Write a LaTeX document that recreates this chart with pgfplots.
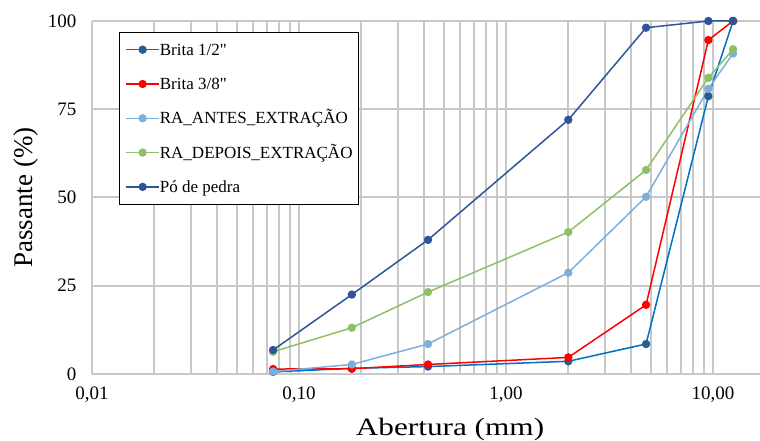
\documentclass[border=0pt]{standalone}
\usepackage{pgfplots}
\pgfplotsset{compat=1.18}
\usepackage{fontspec}
\setmainfont{Liberation Serif}[Ligatures=TeXOff]

\definecolor{bUmLine}{RGB}{0,112,192}
\definecolor{bUmMark}{RGB}{37,94,145}
\definecolor{bTres}{RGB}{255,0,0}
\definecolor{raAntes}{RGB}{125,175,222}
\definecolor{raDepois}{RGB}{140,193,104}
\definecolor{poPedra}{RGB}{47,85,151}
\definecolor{gridc}{RGB}{200,200,200}

\begin{document}
\begin{tikzpicture}
\begin{axis}[
  scale only axis,
  width=668pt, height=353pt,
  xmode=log, log basis x=10,
  xmin=0.01, xmax=16.87,
  ymin=0, ymax=100,
  clip=false,
  xtick={0.01,0.1,1,10},
  xticklabels={{0,01},{0,10},{1,00},{10,00}},
  minor xtick={0.02,0.03,0.04,0.05,0.06,0.07,0.08,0.09,
               0.2,0.3,0.4,0.5,0.6,0.7,0.8,0.9,
               2,3,4,5,6,7,8,9},
  ytick={0,25,50,75,100},
  yticklabels={0,25,50,75,100},
  xmajorgrids, xminorgrids, ymajorgrids,
  grid style={draw=gridc, line width=2pt},
  minor grid style={draw=gridc, line width=2pt},
  axis line style={draw=none},
  major tick length=0pt, minor tick length=0pt,
  tick label style={font=\fontsize{19}{19}\selectfont},
  yticklabel style={xshift=-12pt},
  xticklabel style={yshift=-9pt},
  legend style={
    at={(axis description cs:0.0404,0.9697)}, anchor=north west,
    draw=black, line width=0.8pt, fill=white,
    font=\fontsize{17}{17}\selectfont,
    inner xsep=6pt, inner ysep=9.6pt,
    row sep=18.3pt,
    nodes={inner sep=0pt, text height=13.5pt, text depth=2.5pt},
  },
  legend cell align=left,
  legend image code/.code={
    \draw[mark repeat=2, mark phase=2, #1]
      plot coordinates {(0pt,0pt) (16.5pt,0pt) (33pt,0pt)};
  },
  every axis plot/.append style={line width=1.5pt, mark=*, mark size=3.4pt},
]
% Brita 1/2"
\addplot[color=bUmLine, mark options={fill=bUmMark, draw=bUmMark}] coordinates {
  (0.075,0.6) (0.18,1.6) (0.42,2.1) (2.0,3.6) (4.75,8.5) (9.5,78.7) (12.5,100)};
\addlegendentry{Brita 1/2"}
% Brita 3/8"
\addplot[color=bTres, mark options={fill=bTres, draw=bTres}] coordinates {
  (0.075,1.4) (0.18,1.5) (0.42,2.7) (2.0,4.7) (4.75,19.6) (9.5,94.6) (12.5,100)};
\addlegendentry{Brita 3/8"}
% RA antes da extração
\addplot[color=raAntes, mark options={fill=raAntes, draw=raAntes}] coordinates {
  (0.075,0.7) (0.18,2.7) (0.42,8.5) (2.0,28.7) (4.75,50.2) (9.5,80.8) (12.5,90.8)};
\addlegendentry{RA\_ANTES\_EXTRAÇÃO}
% RA depois da extração
\addplot[color=raDepois, mark options={fill=raDepois, draw=raDepois}] coordinates {
  (0.075,6.3) (0.18,13.1) (0.42,23.2) (2.0,40.2) (4.75,57.8) (9.5,83.9) (12.5,92.0)};
\addlegendentry{RA\_DEPOIS\_EXTRAÇÃO}
% Pó de pedra
\addplot[color=poPedra, mark options={fill=poPedra, draw=poPedra}] coordinates {
  (0.075,6.8) (0.18,22.5) (0.42,38.0) (2.0,72.0) (4.75,98.1) (9.5,100) (12.5,100)};
\addlegendentry{Pó de pedra}

\node[anchor=base, xscale=1.25, font=\fontsize{25}{25}\selectfont]
  at ([yshift=-62pt]axis description cs:0.536,0) {Abertura (mm)};
\node[anchor=base, rotate=90, font=\fontsize{27}{27}\selectfont]
  at ([xshift=-59pt]axis description cs:0,0.5) {Passante (\%)};
\end{axis}
\pgfresetboundingbox
\useasboundingbox (-92pt,-67pt) rectangle (668pt,374pt);
\end{tikzpicture}
\end{document}
